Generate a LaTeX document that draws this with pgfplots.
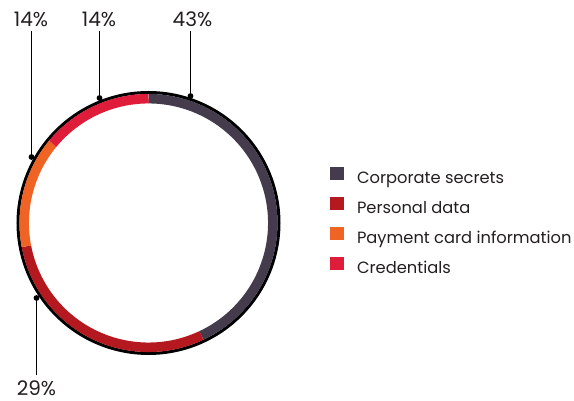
\documentclass[border=0pt]{standalone}
\usepackage{pgfplots}
\pgfplotsset{compat=1.18}
\usepackage{fontspec}
\setmainfont{Poppins}
\definecolor{corp}{HTML}{443B4C}
\definecolor{pers}{HTML}{B3191F}
\definecolor{paym}{HTML}{EF6424}
\definecolor{cred}{HTML}{DF1C3A}
\definecolor{txt}{HTML}{231F20}
\tikzset{pct/.style={font=\fontsize{20}{22}\selectfont, text=txt, inner sep=0pt}}
% shares in percent
\def\vCorp{43}
\def\vPers{29}
\def\vPaym{14}
\def\vCred{14}
\pgfmathsetmacro{\aA}{90}
\pgfmathsetmacro{\aB}{\aA-3.6*\vCorp}
\pgfmathsetmacro{\aC}{\aB-3.6*\vPers}
\pgfmathsetmacro{\aD}{\aC-3.6*\vPaym}
\pgfmathsetmacro{\aE}{\aD-3.6*\vCred}
\begin{document}
\begin{tikzpicture}
\begin{axis}[
  width=574pt, height=401pt, scale only axis,
  xmin=0, xmax=574, ymin=0, ymax=401,
  hide axis, clip=false,
  legend style={at={(axis cs:330,234)}, anchor=north west, draw=none, fill=none,
    inner sep=0pt, outer sep=0pt,
    font=\fontsize{16.3}{18}\selectfont\color{txt},
    nodes={inner sep=0pt, text height=12pt, text depth=4pt},
    row sep=9pt, column sep=13pt},
  legend cell align=left,
  legend image code/.code={\fill[#1, draw=none] (0pt,-0.5pt) rectangle (14pt,13pt);},
]
\path (rel axis cs:0,0) rectangle (rel axis cs:1,1);
% outer black rim
\addplot[black, line width=3pt, domain=0:360, samples=181, forget plot]
  ({148.5+130.5*cos(x)}, {178+130.5*sin(x)});
% ring segments
\addplot[corp, line width=9.5pt, domain=\aB:\aA, samples=80]
  ({148.5+124.3*cos(x)}, {178+124.3*sin(x)});
\addlegendentry{Corporate secrets}
\addplot[pers, line width=9.5pt, domain=\aC:\aB, samples=60]
  ({148.5+124.3*cos(x)}, {178+124.3*sin(x)});
\addlegendentry{Personal data}
\addplot[paym, line width=9.5pt, domain=\aD:\aC, samples=30]
  ({148.5+124.3*cos(x)}, {178+124.3*sin(x)});
\addlegendentry{Payment card information}
\addplot[cred, line width=9.5pt, domain=\aE:\aD, samples=30]
  ({148.5+124.3*cos(x)}, {178+124.3*sin(x)});
\addlegendentry{Credentials}
% leader lines
\addplot[black, line width=1.3pt, mark=*, mark size=2.2pt, mark indices={1}, forget plot]
  coordinates {(190.5,305) (190.5,370)};
\addplot[black, line width=1.3pt, mark=*, mark size=2.2pt, mark indices={1}, forget plot]
  coordinates {(99.5,303) (99.5,370)};
\addplot[black, line width=1.3pt, mark=*, mark size=2.2pt, mark indices={1}, forget plot]
  coordinates {(31.5,244) (31.5,370)};
\addplot[black, line width=1.3pt, mark=*, mark size=2.2pt, mark indices={1}, forget plot]
  coordinates {(36.5,103) (36.5,26)};
% labels
\node[pct] at (axis cs:192.5,382) {43\%};
\node[pct] at (axis cs:99,382) {14\%};
\node[pct] at (axis cs:31,382) {14\%};
\node[pct] at (axis cs:36.5,12.5) {29\%};
\end{axis}
\end{tikzpicture}
\end{document}
